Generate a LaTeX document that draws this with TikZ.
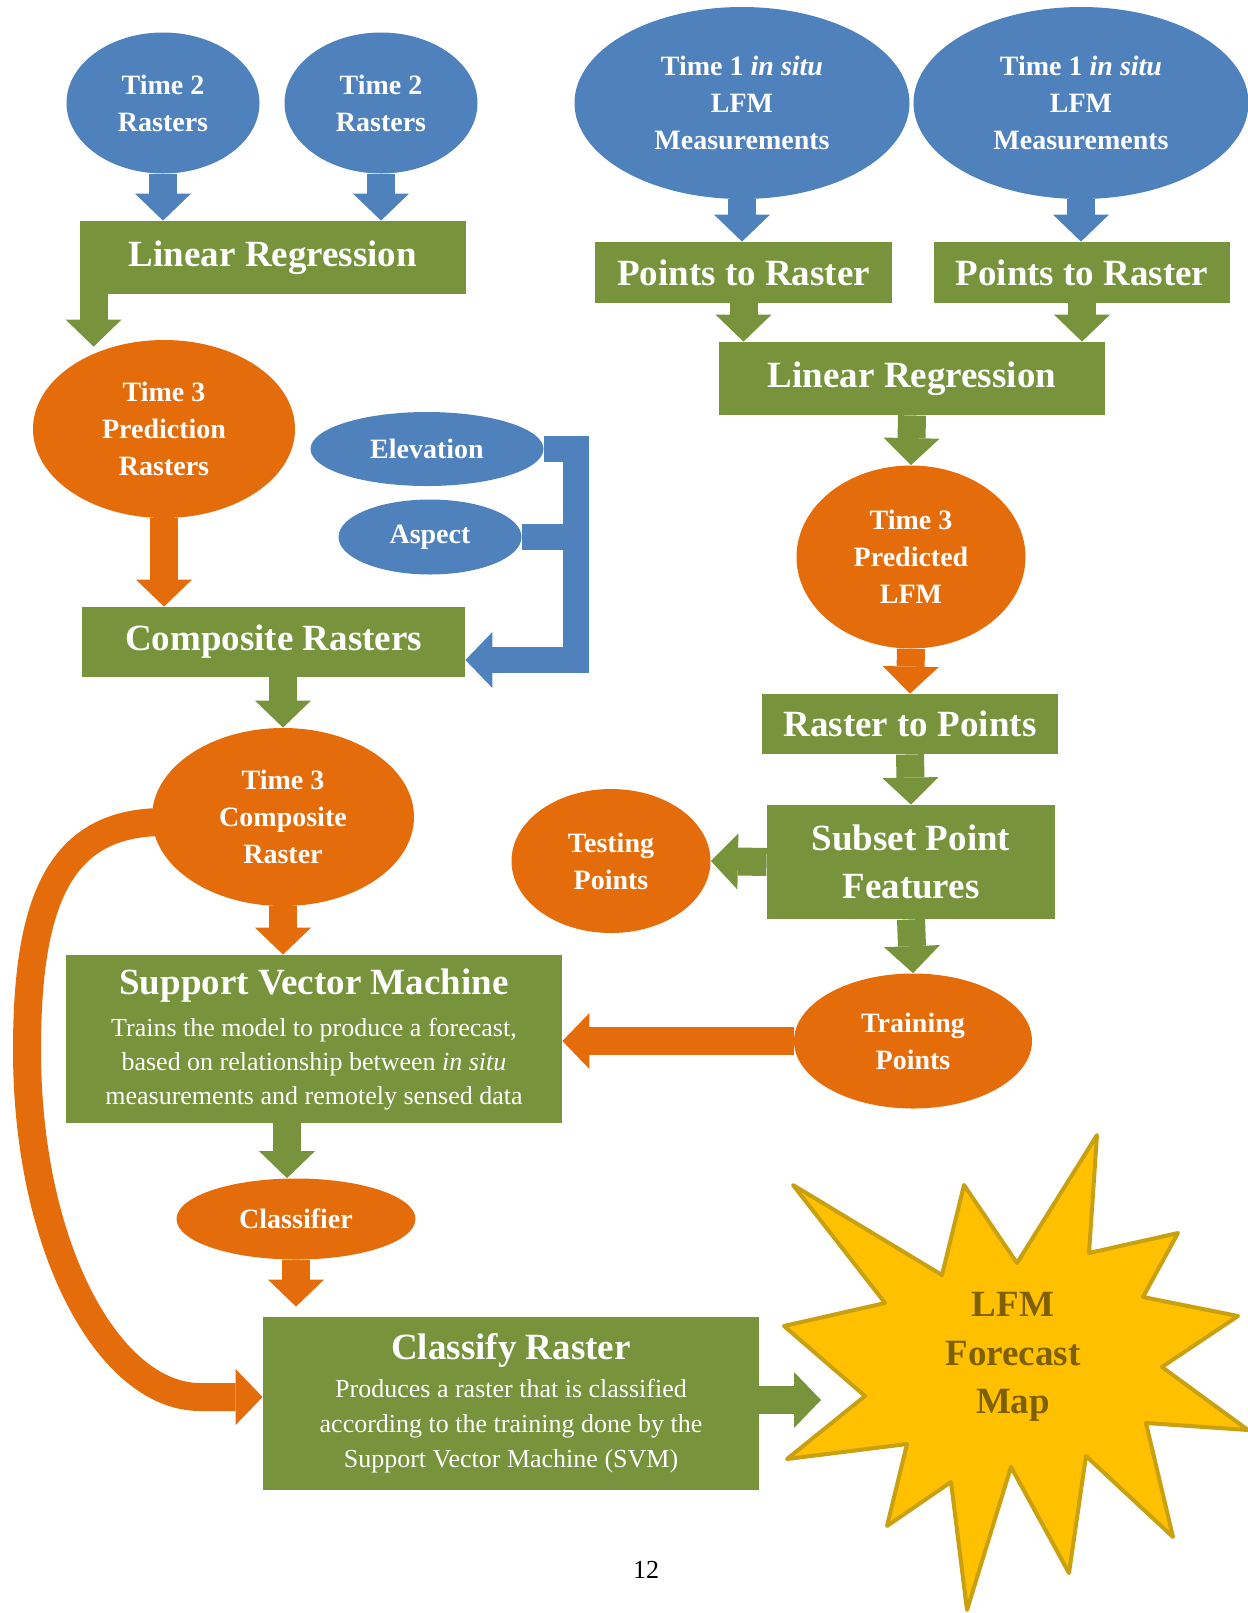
\documentclass[tikz,border=0pt]{standalone}
\usepackage{fontspec}
\setmainfont{Liberation Serif}
\usepackage{tikz}
\usetikzlibrary{shapes.geometric, arrows.meta, positioning}
\usepackage{xcolor}
\definecolor{lfmblue}{HTML}{4F81BD}
\definecolor{lfmorange}{HTML}{E46C0A}
\definecolor{lfmgreen}{HTML}{77933C}
\definecolor{lfmgold}{HTML}{FFC000}
\definecolor{lfmgoldline}{HTML}{C9A010}
\definecolor{lfmbrown}{HTML}{7F6000}
\newcommand{\boxtitle}[1]{{\bfseries\fontsize{18.5}{24}\selectfont #1}}

\begin{document}
\begin{tikzpicture}[x=0.5pt, y=-0.5pt,
        blob/.style={ellipse, inner sep=0pt, align=center, text=white,
                     font=\bfseries\fontsize{14}{18.5}\selectfont},
        proc/.style={rectangle, inner sep=0pt, fill=lfmgreen, align=center, text=white,
                     font=\bfseries\fontsize{18.5}{24}\selectfont},
        arr/.style={line width=14pt, -{Triangle[width=28pt, length=13.5pt, line width=0pt]}}
    ]
        \useasboundingbox (0,0) rectangle (1248,1613);

        % inputs
        \node[blob, fill=lfmblue, minimum width=96.5pt, minimum height=70.5pt] (t2a) at (163,103) {Time 2\\Rasters};
        \node[blob, fill=lfmblue, minimum width=96.5pt, minimum height=70.5pt] (t2b) at (381,103) {Time 2\\Rasters};
        \node[blob, fill=lfmblue, minimum width=167.5pt, minimum height=96pt] (t1a) at (742,103) {Time 1 \textit{in situ}\\LFM\\Measurements};
        \node[blob, fill=lfmblue, minimum width=167.5pt, minimum height=96pt] (t1b) at (1081,103) {Time 1 \textit{in situ}\\LFM\\Measurements};

        \node[proc, minimum width=193pt, minimum height=36.5pt] (lr1) at (273,257.5) {Linear Regression};
        \node[proc, minimum width=148.5pt, minimum height=30.5pt] (ptr1) at (743.5,272.5) {Points to Raster};
        \node[proc, minimum width=148pt, minimum height=30.5pt] (ptr2) at (1082,272.5) {Points to Raster};
        \node[proc, minimum width=193pt, minimum height=36.5pt] (lr2) at (912,378.5) {Linear Regression};

        \node[blob, fill=lfmorange, minimum width=131pt, minimum height=89pt] (t3p) at (164,429) {Time 3\\Prediction\\Rasters};
        \node[blob, fill=lfmblue, minimum width=116.5pt, minimum height=37pt] (elev) at (427,449) {Elevation};
        \node[blob, fill=lfmblue, minimum width=91.5pt, minimum height=37.5pt] (asp) at (430,537) {Aspect};
        \node[blob, fill=lfmorange, minimum width=114.5pt, minimum height=91.5pt] (t3l) at (911,557) {Time 3\\Predicted\\LFM};

        \node[proc, minimum width=191.5pt, minimum height=35pt] (comp) at (273.5,642) {Composite Rasters};
        \node[proc, minimum width=148pt, minimum height=30pt] (rtp) at (910,724) {Raster to Points};
        \node[blob, fill=lfmorange, minimum width=131pt, minimum height=89pt] (t3c) at (283,817) {Time 3\\Composite\\Raster};
        \node[proc, minimum width=144pt, minimum height=57pt] (sub) at (911,862) {Subset Point\\Features};
        \node[blob, fill=lfmorange, minimum width=99.5pt, minimum height=72pt] (test) at (611,861) {Testing\\Points};
        \node[blob, fill=lfmorange, minimum width=119pt, minimum height=67.5pt] (train) at (913,1041) {Training\\Points};

        \node[proc, font=\fontsize{13}{17}\selectfont, minimum width=248pt, minimum height=84pt] (svm) at (314,1039)
            {\boxtitle{Support Vector Machine}\\[4pt] Trains the model to produce a forecast,\\ based on relationship between \textit{in situ}\\ measurements and remotely sensed data};
        \node[blob, fill=lfmorange, minimum width=119.5pt, minimum height=40.5pt] (clf) at (296,1219) {Classifier};
        \node[proc, font=\fontsize{13}{17.5}\selectfont, minimum width=248pt, minimum height=86.5pt] (cls) at (511,1403.5)
            {\boxtitle{Classify Raster}\\[1.5pt] Produces a raster that is classified\\ according to the training done by the\\ Support Vector Machine (SVM)};

        % forecast map
        \draw[lfmgoldline, fill=lfmgold, line width=2pt, line join=round]
            (793,1185) -- (942,1275) -- (964,1185) -- (1017,1263) -- (1097,1135) -- (1089,1253)
            -- (1178,1233) -- (1143,1297) -- (1238,1316) -- (1162,1367) -- (1248,1430) -- (1146,1423)
            -- (1173,1537) -- (1086,1456) -- (1069,1573) -- (1011,1467) -- (967,1610) -- (951,1482)
            -- (887,1526) -- (907,1444) -- (787,1459) -- (865,1396) -- (784,1326) -- (885,1303) -- cycle;
        \node[font=\bfseries\fontsize{18.5}{24.3}\selectfont, text=lfmbrown, align=center] (fmap) at (1013,1357) {LFM\\Forecast\\Map};
        \coordinate (fmin) at (821,1400);

        \node[font=\fontsize{13}{16}\selectfont] (pg) at (646,1570) {12};

        % connectors
        \draw[arr, lfmblue] (t2a.south) -- (t2a.south |- lr1.north);
        \draw[arr, lfmblue] (t2b.south) -- (t2b.south |- lr1.north);
        \draw[arr, lfmblue] (t1a.south) -- (t1a.south |- ptr1.north);
        \draw[arr, lfmblue] (t1b.south) -- (t1b.south |- ptr2.north);
        \draw[arr, lfmgreen, shorten >=-3.5pt] ([xshift=7pt]lr1.south west) -- ([xshift=7pt]lr1.south west |- t3p.north);
        \draw[arr, lfmgreen] (ptr1.south) -- (ptr1.south |- lr2.north);
        \draw[arr, lfmgreen] (ptr2.south) -- (ptr2.south |- lr2.north);
        \draw[arr, lfmgreen] (lr2.south) -- (t3l.north);
        \draw[arr, lfmorange] (t3p.south) -- (t3p.south |- comp.north);

        \coordinate (bus) at (575.5,660);
        \draw[lfmblue, line width=13pt] (asp.east) -- (asp.east -| bus);
        \draw[arr, lfmblue, line width=13pt, line join=miter] (elev.east) -| (bus) -- ([yshift=-9pt]comp.east);

        \draw[arr, lfmgreen] (t3c.north |- comp.south) -- (t3c.north);
        \draw[arr, lfmorange] (t3l.south) -- (rtp.north);
        \draw[arr, lfmgreen] (rtp.south) -- (sub.north);
        \draw[arr, lfmgreen] (sub.west) -- (test.east);
        \draw[arr, lfmgreen] (sub.south) -- (train.north);
        \draw[arr, lfmorange] (t3c.south) -- (t3c.south |- svm.north);
        \draw[arr, lfmorange] (train.west) -- (train.west -| svm.east);
        \draw[arr, lfmgreen] ([xshift=-4.5pt]clf.north |- svm.south) -- ([xshift=-4.5pt]clf.north);
        \draw[arr, lfmorange, shorten >=5pt] (clf.south) -- (clf.south |- cls.north);
        \draw[arr, lfmorange] ([xshift=6pt, yshift=-2.5pt]t3c.west) .. controls (60,822) and (27,900) .. (27,1050)
            .. controls (27,1250) and (110,1397) .. (200,1397) -- ([yshift=3.25pt]cls.west);
        \draw[arr, lfmgreen] (cls.east |- fmin) -- (fmin);
    \end{tikzpicture}
\end{document}
